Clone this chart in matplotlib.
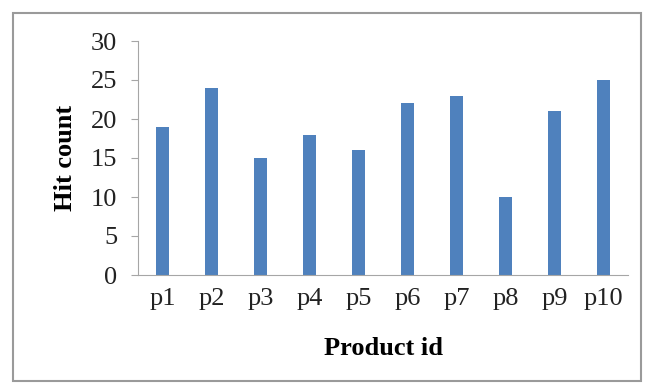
import matplotlib.pyplot as plt
from matplotlib.patches import Rectangle

# --- Data ---
products = ["p1", "p2", "p3", "p4", "p5", "p6", "p7", "p8", "p9", "p10"]
hits = [19, 24, 15, 18, 16, 22, 23, 10, 21, 25]

plt.rcParams["font.family"] = ["Liberation Serif", "DejaVu Serif"]

fig = plt.figure(figsize=(6.46, 3.83), dpi=100)
ax = fig.add_axes([138 / 646, 1 - 275 / 383, 490 / 646, 234 / 383])

x = range(len(products))
ax.bar(x, hits, width=0.25, color="#4F81BD")

ax.set_xlim(-0.5, len(products) - 0.5)
ax.set_ylim(0, 30)
ax.set_yticks(range(0, 31, 5))
ax.set_xticks(list(x))
ax.set_xticklabels(products)

for side in ["top", "right"]:
    ax.spines[side].set_visible(False)
ax.spines["left"].set_color("#A6A6A6")
ax.spines["bottom"].set_color("#A6A6A6")
ax.tick_params(axis="y", colors="#A6A6A6", labelcolor="#222222", labelsize=19, length=5, pad=10)
ax.tick_params(axis="x", length=0, labelcolor="#222222", labelsize=19, pad=9)

ax.set_ylabel("Hit count", fontsize=19, fontweight="bold", labelpad=10)
ax.set_xlabel("Product id", fontsize=19, fontweight="bold", labelpad=20)

# outer chart border
fig.patches.append(Rectangle((13 / 646, 0.005), 628 / 646, 1 - 13 / 383 - 0.005,
                             transform=fig.transFigure, fill=False,
                             edgecolor="#9A9A9A", linewidth=1.5))

fig.savefig("out.png", dpi=100)
